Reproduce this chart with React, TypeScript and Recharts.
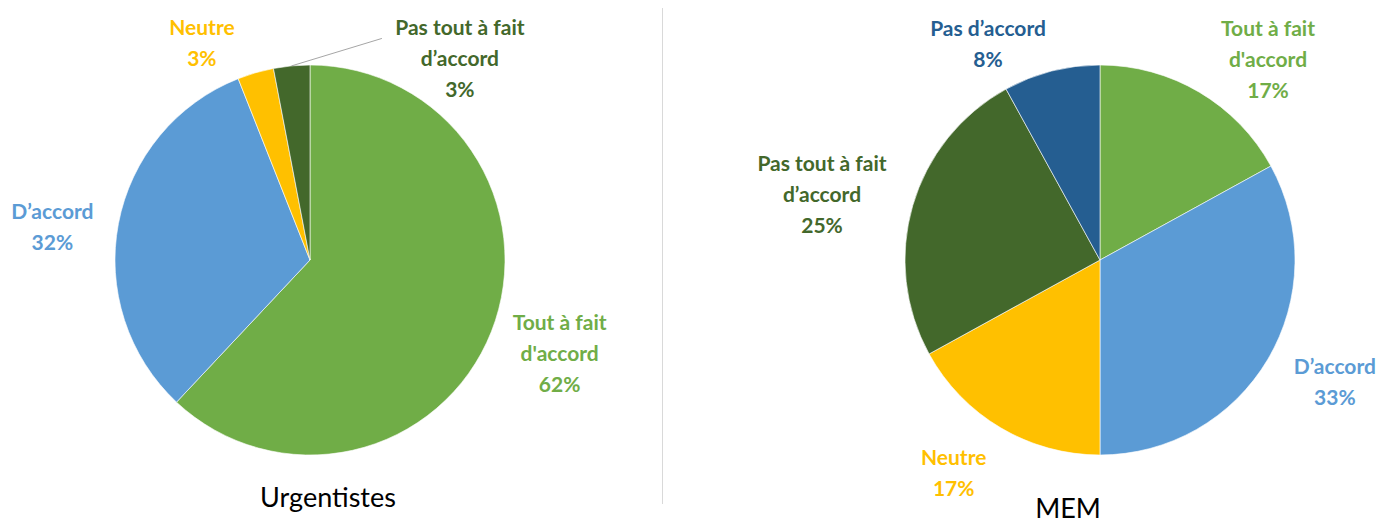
import React from "react";
import { PieChart, Pie, Cell } from "recharts";

const urgCategories = ["Tout à fait d'accord", "D’accord", "Neutre", "Pas tout à fait d’accord"];
const urgValues = [62, 32, 3, 3];

const memCategories = ["Tout à fait d'accord", "D’accord", "Neutre", "Pas tout à fait d’accord", "Pas d’accord"];
const memValues = [17, 33, 17, 25, 8];

const titles = ["Urgentistes", "MEM"];

const colorOf: Record<string, string> = {
  "Tout à fait d'accord": "#70AD47",
  "D’accord": "#5B9BD5",
  "Neutre": "#FFC000",
  "Pas tout à fait d’accord": "#43682B",
  "Pas d’accord": "#255E91",
};

// label placement (polar: angle in degrees, radius in px from pie centre)
const urgLabelPlacement = [
  { angle: -20.2, r: 266 },
  { angle: 172.3, r: 260 },
  { angle: 116.3, r: 244 },
  { angle: 53.5, r: 252, leader: true },
];
const memLabelPlacement = [
  { angle: 50.3, r: 263 },
  { angle: -27.2, r: 264 },
  { angle: -124.7, r: 257 },
  { angle: 166.4, r: 286 },
  { angle: 117.2, r: 245 },
];

const urgData = urgCategories.map((name, i) => ({ name, value: urgValues[i] }));
const memData = memCategories.map((name, i) => ({ name, value: memValues[i] }));

const FONT = "Lato, 'Open Sans', sans-serif";
const RAD = Math.PI / 180;
const LINE_H = 31;

function splitName(name: string): string[] {
  if (name.length > 14) {
    const k = name.lastIndexOf(" ");
    return [name.slice(0, k), name.slice(k + 1)];
  }
  return [name];
}

function makeLabel(placement: { angle: number; r: number; leader?: boolean }[]) {
  return (props: any) => {
    const { cx, cy, index, name, value, midAngle, outerRadius } = props;
    const p = placement[index];
    const x = cx + p.r * Math.cos(p.angle * RAD);
    const y = cy - p.r * Math.sin(p.angle * RAD);
    const lines = [...splitName(name), `${value}%`];
    const y0 = y - ((lines.length - 1) * LINE_H) / 2;
    const color = colorOf[name];
    let leader = null;
    if (p.leader) {
      const sx = cx + outerRadius * Math.cos(midAngle * RAD);
      const sy = cy - outerRadius * Math.sin(midAngle * RAD);
      const ex = x - 78;
      const ey = y0 + 12;
      leader = <line x1={sx} y1={sy} x2={ex} y2={ey} stroke="#A6A6A6" strokeWidth={1} />;
    }
    return (
      <g key={`lbl-${index}`}>
        {leader}
        <text
          x={x}
          y={y0}
          textAnchor="middle"
          dominantBaseline="central"
          fill={color}
          fontFamily={FONT}
          fontWeight={700}
          fontSize={21}
        >
          {lines.map((l, i) => (
            <tspan key={i} x={x} y={y0 + i * LINE_H}>
              {l}
            </tspan>
          ))}
        </text>
      </g>
    );
  };
}

export default function App() {
  return (
    <div style={{ position: "absolute", left: 0, top: 0, width: 1396, height: 523, background: "#fff" }}>
      <PieChart width={1396} height={523} margin={{ top: 0, right: 0, bottom: 0, left: 0 }}>
        <Pie
          data={urgData}
          dataKey="value"
          nameKey="name"
          cx={310}
          cy={260}
          outerRadius={195}
          startAngle={90}
          endAngle={-270}
          isAnimationActive={false}
          label={makeLabel(urgLabelPlacement)}
          labelLine={false}
          stroke="#ffffff"
          strokeWidth={0.6}
        >
          {urgData.map((d, i) => (
            <Cell key={i} fill={colorOf[d.name]} />
          ))}
        </Pie>
        <Pie
          data={memData}
          dataKey="value"
          nameKey="name"
          cx={1100}
          cy={260}
          outerRadius={195}
          startAngle={90}
          endAngle={-270}
          isAnimationActive={false}
          label={makeLabel(memLabelPlacement)}
          labelLine={false}
          stroke="#ffffff"
          strokeWidth={0.6}
        >
          {memData.map((d, i) => (
            <Cell key={i} fill={colorOf[d.name]} />
          ))}
        </Pie>
      </PieChart>
      <div style={{ position: "absolute", left: 662, top: 8, width: 1, height: 496, background: "#D9D9D9" }} />
      <svg style={{ position: "absolute", left: 0, top: 0 }} width={1396} height={523}>
        <text x={328} y={507} textAnchor="middle" fontFamily={FONT} fontSize={27} fill="#000">
          {titles[0]}
        </text>
        <text x={1068} y={518} textAnchor="middle" fontFamily={FONT} fontSize={27} fill="#000">
          {titles[1]}
        </text>
      </svg>
    </div>
  );
}
